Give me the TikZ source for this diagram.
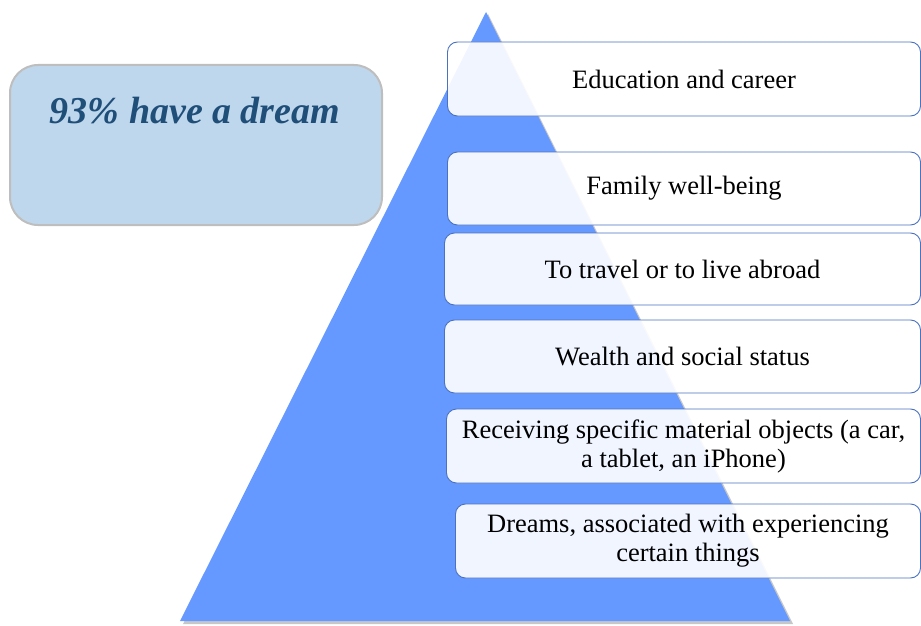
\documentclass[tikz,border=0pt]{standalone}
\usepackage{fontspec}
\setmainfont{Liberation Serif}
\definecolor{pyr}{HTML}{6699FF}
\definecolor{boxline}{HTML}{4A72C0}
\definecolor{leftfill}{HTML}{BFD7EC}
\definecolor{leftline}{HTML}{BEBEBE}
\definecolor{lefttext}{HTML}{1F4E79}
\begin{document}
\begin{tikzpicture}[x=1pt,y=-1pt,
  itembox/.style={draw=boxline, line width=0.9pt, fill=white, fill opacity=0.9, text opacity=1,
    rounded corners=10pt, align=center, inner sep=0pt,
    font=\fontsize{26.5}{29}\selectfont},
  leftbox/.style={draw=leftline, line width=2pt, fill=leftfill, rounded corners=28pt,
    minimum width=372pt, minimum height=160pt, inner sep=0pt}]
\useasboundingbox (0,0) rectangle (921,626);
% shadow of the pyramid
\fill[black!40, opacity=0.55] (488,14) -- (183,624) -- (793,624) -- cycle;
\fill[pyr] (486,12) -- (180,621) -- (790,621) -- cycle;
% left box
\node[leftbox] (lb) at (196,145) {};
\node[font=\fontsize{38}{42}\selectfont\bfseries\itshape, text=lefttext] (lt) at (195,111) {93\% have a dream};
% items
\node[itembox, minimum width=473pt, minimum height=74pt] (b1) at (684,79) {Education and career};
\node[itembox, minimum width=473pt, minimum height=73pt] (b2) at (684,188.5) {Family well-being};
\node[itembox, minimum width=476pt, minimum height=72pt] (b3) at (682.5,269) {To travel or to live abroad};
\node[itembox, minimum width=476pt, minimum height=73pt] (b4) at (682.5,356.5) {Wealth and social status};
\node[itembox, minimum width=474pt, minimum height=74pt] (b5) at (683.5,446) {Receiving specific material objects (a car,\\a tablet, an iPhone)};
\node[itembox, minimum width=465pt, minimum height=74pt] (b6) at (688,541) {Dreams, associated with experiencing\\certain things};
\end{tikzpicture}
\end{document}
